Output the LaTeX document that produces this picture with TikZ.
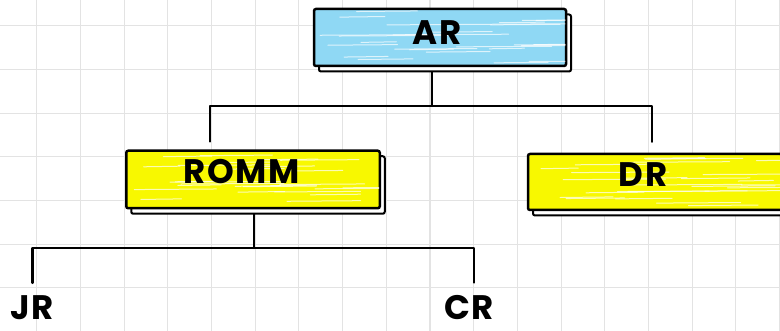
\documentclass[tikz,border=0pt]{standalone}
\usepackage{fontspec}
\setmainfont{Poppins}
\usetikzlibrary{shadows,calc,backgrounds}

\definecolor{skyfill}{HTML}{8FD8F4}
\definecolor{lemon}{HTML}{F8F800}
\definecolor{gridgray}{HTML}{E3E3E3}

\tikzset{
  gridline/.style={draw=gridgray, line width=1.1pt},
  card/.style={draw=black, line width=2.5pt, rounded corners=2pt, inner sep=0pt,
    copy shadow={shadow xshift=5pt, shadow yshift=-5.5pt, draw=black, fill=white, line width=2pt}},
  lbl/.style={anchor=base, inner sep=0pt, font=\fontsize{34}{38}\selectfont\bfseries\addfontfeature{LetterSpace=5}},
  conn/.style={draw=black, line width=2.2pt, line cap=round, line join=round},
  streak/.style={draw=white, opacity=0.7, line width=1pt, line cap=round}
}

% white hatching strokes inside a filled card
\newcommand\hatchcard[2]{%
  \begin{scope}
    \clip ([shift={(2pt,-2pt)}]#1.north west) rectangle ([shift={(-2pt,2pt)}]#1.south east);
    \pgfmathsetseed{#2}
    \foreach \k in {1,...,26}{
      \pgfmathsetmacro\ya{0.06+0.88*rnd}
      \pgfmathsetmacro\xa{rnd*230}
      \pgfmathsetmacro\la{30+90*rnd}
      \draw[streak] ($(#1.north west)!\ya!(#1.south west) + (\xa pt,0)$) -- ++(\la pt,0.6pt);
    }
  \end{scope}}

\begin{document}
\begin{tikzpicture}[x=1pt,y=-1pt]
\useasboundingbox (0,0) rectangle (780,331);

% squared paper
\begin{scope}[on background layer]
  \fill[white] (0,0) rectangle (780,331);
  \foreach \i in {0,...,17} \draw[gridline] ({36.7+43.7*\i},0) -- ++(0,331);
  \foreach \j in {0,...,6} \draw[gridline] (0,{25.7+43.7*\j}) -- ++(780,0);
\end{scope}

% cards
\node[card, fill=skyfill, minimum width=252pt, minimum height=57pt] (ar) at (440,37.5) {};
\node[card, fill=lemon, minimum width=253.5pt, minimum height=57.5pt] (romm) at (253,179.5) {};
\node[card, fill=lemon, minimum width=254pt, minimum height=56pt] (dr) at (655,182) {};

\hatchcard{ar}{7}
\hatchcard{romm}{11}
\hatchcard{dr}{5}

% card titles and leaf labels
\node[lbl] (ar-t) at (437,45) {AR};
\node[lbl] (romm-t) at (241.5,184) {ROMM};
\node[lbl] (dr-t) at (643,187) {DR};
\node[lbl] (jr) at (32,320) {JR};
\node[lbl] (cr) at (469,320) {CR};

% tree connectors
\begin{scope}[on background layer]
  \coordinate (j1) at (432,106);
  \draw[conn] ([xshift=-8pt]ar.south) -- (j1);
  \draw[conn] (j1) -| ([xshift=-43pt,yshift=8pt]romm.north);
  \draw[conn] (j1) -| ([xshift=-3pt,yshift=11pt]dr.north);
  \coordinate (j2) at (254,248);
  \draw[conn] ([xshift=1pt]romm.south) -- (j2);
  \draw[conn] (j2) -| ([xshift=0.5pt,yshift=13pt]jr.north);
  \draw[conn] (j2) -| ([xshift=5pt,yshift=13pt]cr.north);
\end{scope}
\end{tikzpicture}
\end{document}
